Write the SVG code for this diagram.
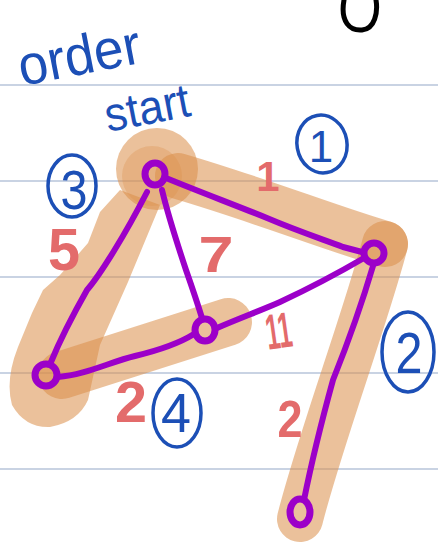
<svg xmlns="http://www.w3.org/2000/svg" width="438" height="544" viewBox="0 0 438 544">
<style>
.rule{stroke:#c9d3e3;stroke-width:2}
.hl{fill:none;stroke:#db8e49;stroke-opacity:0.55;stroke-linecap:round;stroke-linejoin:round}
.hlf{fill:#db8e49;fill-opacity:0.55}
.edge{fill:none;stroke:#9c00c9;stroke-width:6;stroke-linecap:round;stroke-linejoin:round}
.node{fill:none;stroke:#9c00c9;stroke-width:7}
.blue{fill:#1c4fb6;font-family:"Liberation Sans",Arial,sans-serif}
.ring{fill:none;stroke:#1c4fb6;stroke-width:3.5}
.red{fill:#e36b6b;font-family:"Liberation Sans",Arial,sans-serif;font-weight:bold}
</style>
<rect width="438" height="544" fill="#ffffff"/>
<g id="rules">
<line class="rule" x1="0" y1="85" x2="438" y2="85"/>
<line class="rule" x1="0" y1="181" x2="438" y2="181"/>
<line class="rule" x1="0" y1="277" x2="438" y2="277"/>
<line class="rule" x1="0" y1="373" x2="438" y2="373"/>
<line class="rule" x1="0" y1="469" x2="438" y2="469"/>
</g>
<path d="M344,0 C340,22 350,31 362,30 C375,29 378,12 376,0" fill="none" stroke="#000" stroke-width="5" stroke-linecap="round"/>
<g id="highlight">
<circle class="hlf" cx="157" cy="169" r="41"/>
<circle cx="152" cy="176" r="30" fill="#db8e49" fill-opacity="0.3"/>
<path class="hl" d="M178,176 C260,200 330,228 385,244" stroke-width="46"/>
<path class="hlf" d="M120,190 L100,212 L88,243 L60,275 L43,290 L32,313 L18,347 Q5,380 12,405 Q25,428 50,427 Q78,422 88,400 L100,345 L128,282 L160,205 Z"/>
<path class="hl" d="M62,375 L228,322" stroke-width="48"/>
<path class="hl" d="M385,244 C365,320 320,440 300,519" stroke-width="46"/>
</g>
<g id="connectors">
<path class="edge" d="M166,178 C200,192 235,205 267,218 C300,232 325,240 343,247 L362,252"/>
<path class="edge" d="M162,190 C168,215 176,240 186,270 C193,290 198,305 202,318"/>
<path class="edge" d="M147,192 C125,235 100,275 87,290 C70,320 58,345 51,362"/>
<path class="edge" d="M58,377 C85,375 110,362 135,356 C160,350 178,344 194,334"/>
<path class="edge" d="M217,328 C240,318 262,310 280,302 C310,288 340,272 364,258"/>
<path class="edge" d="M373,266 C360,310 345,350 333,380 C322,420 312,460 304,500"/>
</g>
<g id="node-start"><ellipse class="node" cx="155" cy="174" rx="10" ry="11"/></g>
<g id="node-b"><ellipse class="node" cx="374" cy="253" rx="10" ry="10"/></g>
<g id="node-c"><ellipse class="node" cx="205" cy="330" rx="10" ry="11"/></g>
<g id="node-d"><ellipse class="node" cx="46" cy="375" rx="11" ry="11"/></g>
<g id="node-e"><ellipse class="node" cx="300" cy="512" rx="10" ry="13"/></g>
<g id="labels">
<text class="blue" x="22" y="86" font-size="56" textLength="124" lengthAdjust="spacingAndGlyphs" transform="rotate(-11 22 86)">order</text>
<text class="blue" x="108" y="132" font-size="48" textLength="86" lengthAdjust="spacingAndGlyphs" transform="rotate(-11 108 132)">start</text>
<g id="ord3"><ellipse class="ring" cx="72" cy="186" rx="24" ry="31"/><text class="blue" x="74" y="209" font-size="56" text-anchor="middle" textLength="27" lengthAdjust="spacingAndGlyphs">3</text></g>
<g id="ord1"><ellipse class="ring" cx="322" cy="144" rx="25" ry="29" transform="rotate(-10 322 144)"/><text class="blue" x="321" y="162" font-size="44" text-anchor="middle">1</text></g>
<g id="ord2"><ellipse class="ring" cx="408" cy="352" rx="26" ry="40"/><text class="blue" x="409" y="373" font-size="58" text-anchor="middle" textLength="27" lengthAdjust="spacingAndGlyphs">2</text></g>
<g id="ord4"><ellipse class="ring" cx="177" cy="413" rx="24" ry="34"/><text class="blue" x="176" y="432" font-size="56" text-anchor="middle" textLength="30" lengthAdjust="spacingAndGlyphs">4</text></g>
<text class="red" x="268" y="191" font-size="42" text-anchor="middle">1</text>
<text class="red" x="64" y="270" font-size="60" text-anchor="middle" textLength="32" lengthAdjust="spacingAndGlyphs">5</text>
<text class="red" x="216" y="272" font-size="50" text-anchor="middle" textLength="35" lengthAdjust="spacingAndGlyphs">7</text>
<text class="red" x="281" y="348" font-size="50" text-anchor="middle" textLength="26" lengthAdjust="spacingAndGlyphs" transform="rotate(-8 281 348)">11</text>
<text class="red" x="131" y="422" font-size="58" text-anchor="middle" textLength="32" lengthAdjust="spacingAndGlyphs">2</text>
<text class="red" x="290" y="437" font-size="52" text-anchor="middle" textLength="25" lengthAdjust="spacingAndGlyphs">2</text>
</g>
</svg>
